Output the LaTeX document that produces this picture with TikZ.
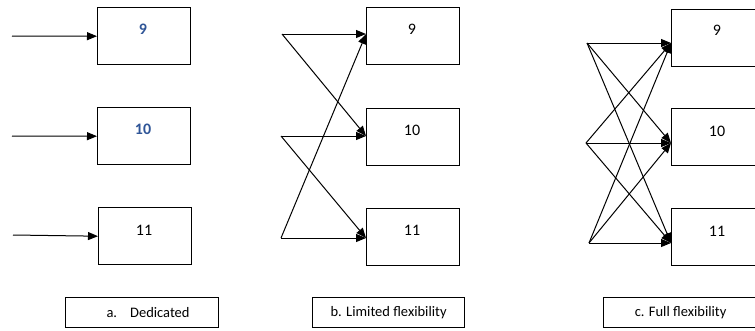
\documentclass[tikz,border=0pt]{standalone}
\usepackage{fontspec}
\setmainfont{Carlito}
\usetikzlibrary{arrows.meta}
\definecolor{numblue}{HTML}{2F5597}
\tikzset{
  unitbox/.style={draw, line width=1.4pt, minimum width=93pt, minimum height=57pt,
    inner sep=0pt, anchor=north west},
  numtext/.style={font=\fontsize{16}{18}\selectfont},
  capfont/.style={font=\fontsize{14.5}{16}\selectfont},
  capbox/.style={draw, line width=1.2pt, minimum height=30pt, inner sep=0pt,
    anchor=north west, capfont},
  flow/.style={line width=1pt, -{Triangle[length=10pt,width=8pt]}},
}
\begin{document}
\begin{tikzpicture}[x=1pt,y=-1pt]
\useasboundingbox (0,0) rectangle (755,330);

% ---- a. Dedicated ----
\node[unitbox] (a9)  at (97,7)   {};
\node[unitbox] (a10) at (97,107) {};
\node[unitbox] (a11) at (98,207) {};
\node[numtext, text=numblue] (a9t)  at (143,29)  {\textbf{9}};
\node[numtext, text=numblue] (a10t) at (143,129) {\textbf{10}};
\node[numtext] (a11t) at (144,230) {11};
\coordinate (as9)  at (12,36);
\coordinate (as10) at (12,136);
\coordinate (as11) at (13,235);
\draw[flow] (as9)  -- (a9.west);
\draw[flow] (as10) -- (a10.west);
\draw[flow] (as11) -- (a11.west);
\node[capbox, minimum width=153pt] (ca) at (65,297) {};
\node[capfont, anchor=west] (cat) at (103,312.5) {a.\hspace{13pt}Dedicated};

% ---- b. Limited flexibility ----
\node[unitbox] (b9)  at (366,7)   {};
\node[unitbox] (b10) at (366,108) {};
\node[unitbox] (b11) at (366,208) {};
\node[numtext] (b9t)  at (412,29)  {9};
\node[numtext] (b10t) at (412,130) {10};
\node[numtext] (b11t) at (412,230) {11};
\coordinate (bs9)  at (282,34);
\coordinate (bs10) at (281,136);
\coordinate (bs11) at (281,238);
\coordinate (bt9)  at (366,34);
\coordinate (bt10) at (366,136);
\coordinate (bt11) at (366,238);
\draw[flow] (bs9)  -- (bt9);
\draw[flow] (bs9)  -- (bt10);
\draw[flow] (bs10) -- (bt10);
\draw[flow] (bs10) -- (bt11);
\draw[flow] (bs11) -- (bt11);
\draw[flow] (bs11) -- (bt9);
\node[capbox, minimum width=152pt] (cb) at (312,297) {b. Limited flexibility};

% ---- c. Full flexibility ----
\node[unitbox] (c9)  at (671,9)   {};
\node[unitbox] (c10) at (671,108) {};
\node[unitbox] (c11) at (671,208) {};
\node[numtext] (c9t)  at (717,30)  {9};
\node[numtext] (c10t) at (717,131) {10};
\node[numtext] (c11t) at (717,231) {11};
\coordinate (cs9)  at (587,43);
\coordinate (cs10) at (586,143);
\coordinate (cs11) at (589,243);
\coordinate (ct9)  at (671,43);
\coordinate (ct10) at (671,143);
\coordinate (ct11) at (671,243);
\foreach \s in {cs9,cs10,cs11}
  \foreach \t in {ct9,ct10,ct11}
    \draw[flow] (\s) -- (\t);
\node[capbox, minimum width=154pt] (cc) at (603,297) {c. Full flexibility};
\end{tikzpicture}
\end{document}
